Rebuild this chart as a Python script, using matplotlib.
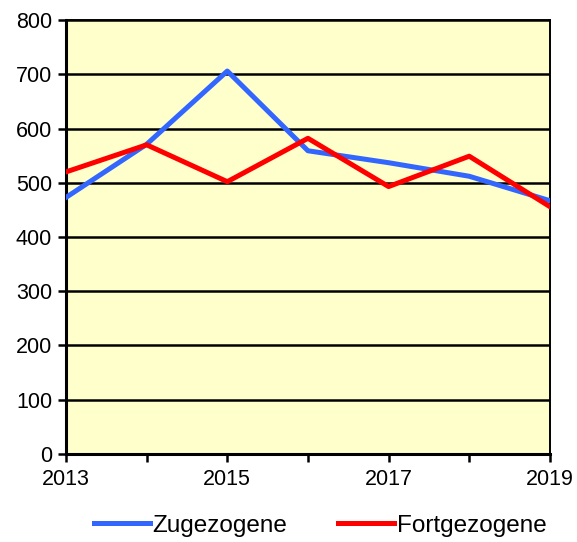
import matplotlib
matplotlib.use("Agg")
import matplotlib.pyplot as plt

years = [2013, 2014, 2015, 2016, 2017, 2018, 2019]
zugezogene = [473, 571, 706, 559, 537, 512, 467]
fortgezogene = [520, 570, 502, 582, 493, 549, 456]
yticks = [0, 100, 200, 300, 400, 500, 600, 700, 800]
xlabels = ["2013", "", "2015", "", "2017", "", "2019"]

plt.rcParams["font.family"] = ["Liberation Sans", "DejaVu Sans"]

fig = plt.figure(figsize=(5.77, 5.42), dpi=100)
ax = fig.add_axes([0.1144, 0.1624, 0.8386, 0.8006])
ax.set_facecolor("#FFFFCC")

ax.plot(years, zugezogene, color="#3366FF", lw=3.6, label="Zugezogene", zorder=3)
ax.plot(years, fortgezogene, color="#FF0000", lw=3.6, label="Fortgezogene", zorder=4)

ax.set_xlim(2013, 2019)
ax.set_ylim(0, 800)
ax.set_yticks(yticks)
ax.set_xticks(years)
ax.set_xticklabels(xlabels)
ax.yaxis.grid(True, color="black", lw=1.8)
ax.set_axisbelow(True)
ax.tick_params(axis="both", labelsize=15.5, width=1.8, length=6, color="black")
ax.tick_params(axis="x", pad=5)
ax.tick_params(axis="y", pad=4)
for side in ["left", "bottom"]:
    ax.spines[side].set_linewidth(2.2)
for side in ["top", "right"]:
    ax.spines[side].set_linewidth(1.4)

fig.legend(loc="center", bbox_to_anchor=(0.555, 0.03), ncol=2, frameon=False,
           fontsize=17.5, handlelength=2.3, handletextpad=0.1, columnspacing=2.1)

fig.savefig("out.png", dpi=100)
